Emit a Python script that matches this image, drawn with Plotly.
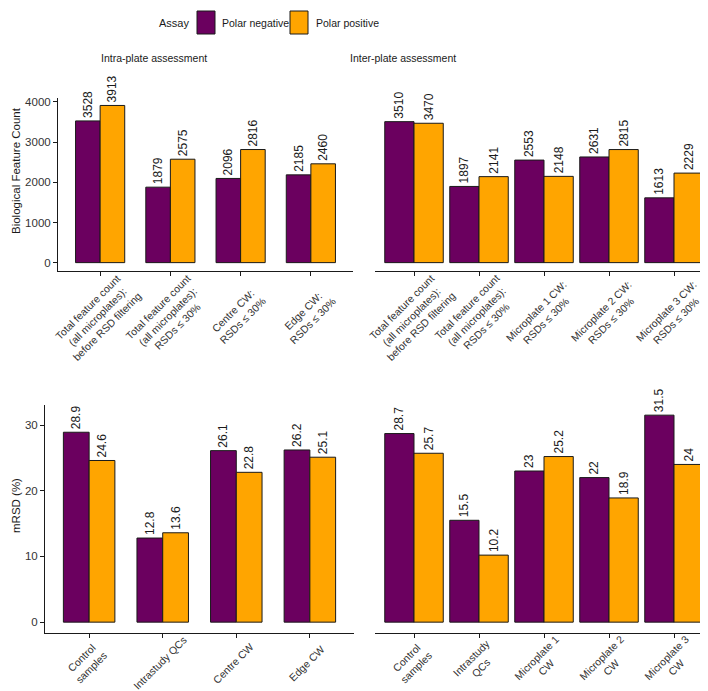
import plotly.graph_objects as go

# ---------------- data ----------------
assays = ["Polar negative", "Polar positive"]
colors = {"Polar negative": "#6B005F", "Polar positive": "#FFA500"}

intra_cats = [
    "Total feature count<br>(all microplates):<br>before RSD filtering",
    "Total feature count<br>(all microplates):<br>RSDs ≤ 30%",
    "Centre CW:<br>RSDs ≤ 30%",
    "Edge CW:<br>RSDs ≤ 30%",
]
intra_neg = [3528, 1879, 2096, 2185]
intra_pos = [3913, 2575, 2816, 2460]

inter_cats = [
    "Total feature count<br>(all microplates):<br>before RSD filtering",
    "Total feature count<br>(all microplates):<br>RSDs ≤ 30%",
    "Microplate 1 CW:<br>RSDs ≤ 30%",
    "Microplate 2 CW:<br>RSDs ≤ 30%",
    "Microplate 3 CW:<br>RSDs ≤ 30%",
]
inter_neg = [3510, 1897, 2553, 2631, 1613]
inter_pos = [3470, 2141, 2148, 2815, 2229]

mrsd_intra_cats = ["Control<br>samples", "Intrastudy QCs", "Centre CW", "Edge CW"]
mrsd_intra_neg = [28.9, 12.8, 26.1, 26.2]
mrsd_intra_pos = [24.6, 13.6, 22.8, 25.1]

mrsd_inter_cats = ["Control<br>samples", "Intrastudy<br>QCs", "Microplate 1<br>CW",
                   "Microplate 2<br>CW", "Microplate 3<br>CW"]
mrsd_inter_neg = [28.7, 15.5, 23.0, 22.0, 31.5]
mrsd_inter_pos = [25.7, 10.2, 25.2, 18.9, 24.0]

y_title_top = "Biological Feature Count"
y_title_bot = "mRSD (%)"
facet_titles = ["Intra-plate assessment", "Inter-plate assessment"]

# ---------------- layout helpers ----------------
W, H = 708, 691
FONT = "Liberation Sans, Arial, sans-serif"
DARK = "#1a1a1a"
TICKCOL = "#333333"


def xp(px):
    return px / W


def yp(py):
    return 1 - py / H


fig = go.Figure()

panels = [
    # x axis, y axis, categories, neg, pos, bar width, x-domain px, y-domain px, tick-label centre y px
    ("x", "y", intra_cats, intra_neg, intra_pos, 0.35, (50, 345), (89.6, 262.5), 308),
    ("x2", "y2", inter_cats, inter_neg, inter_pos, 0.45, (367, 705), (89.6, 262.5), 308),
    ("x3", "y3", mrsd_intra_cats, mrsd_intra_neg, mrsd_intra_pos, 0.35, (37, 346), (396.8, 624.5), 655),
    ("x4", "y4", mrsd_inter_cats, mrsd_inter_neg, mrsd_inter_pos, 0.45, (367, 705), (396.8, 624.5), 655),
]

top_max = max(intra_neg + intra_pos + inter_neg + inter_pos)
bot_max = max(mrsd_intra_neg + mrsd_intra_pos + mrsd_inter_neg + mrsd_inter_pos)

annotations = []

for i, (xa, ya, cats, neg, pos, w, xdom, ydom, lab_y) in enumerate(panels):
    for assay, vals, off in ((assays[0], neg, -w), (assays[1], pos, 0.0)):
        fig.add_trace(go.Bar(
            x=cats, y=vals, name=assay,
            width=w, offset=off,
            marker=dict(color=colors[assay], line=dict(color=DARK, width=1)),
            text=[f"{v:g}" for v in vals],
            textposition="outside", textangle=-90,
            textfont=dict(family=FONT, size=12, color=DARK),
            constraintext="none", cliponaxis=False,
            xaxis=xa, yaxis=ya, showlegend=False,
        ))
    sfx = "" if i == 0 else str(i + 1)
    is_left = i in (0, 2)
    ymax = top_max if i < 2 else bot_max
    yrange = [-0.05 * ymax, 1.05 * ymax]
    fig.layout["xaxis" + sfx] = dict(
        domain=[xp(xdom[0]), xp(xdom[1])],
        anchor="y" + sfx, automargin=False,
        type="category", categoryorder="array", categoryarray=cats,
        range=[-0.6, len(cats) - 0.4],
        showline=True, linecolor=DARK, linewidth=1,
        ticks="outside", ticklen=4, tickcolor=DARK,
        showticklabels=False,
        showgrid=False, zeroline=False, fixedrange=True,
    )
    fig.layout["yaxis" + sfx] = dict(
        domain=[yp(ydom[1]), yp(ydom[0])],
        anchor="x" + sfx, automargin=False,
        range=yrange,
        showline=is_left, linecolor=DARK, linewidth=1,
        ticks="outside" if is_left else "", ticklen=4, tickcolor=DARK,
        showticklabels=is_left,
        tickvals=[0, 1000, 2000, 3000, 4000] if i < 2 else [0, 10, 20, 30],
        tickfont=dict(family=FONT, size=11.5, color=TICKCOL),
        showgrid=False, zeroline=False, fixedrange=True,
    )
    # rotated category labels, centred under each tick (ggplot-style)
    for c in cats:
        annotations.append(dict(
            text=c, x=c, xref=xa, y=yp(lab_y), yref="paper",
            xanchor="center", yanchor="middle", xshift=-3,
            textangle=-45, align="center", showarrow=False,
            font=dict(family=FONT, size=10.5, color=TICKCOL),
        ))


def ann(text, x, y, size=11, xanchor="center", angle=0):
    return dict(text=text, x=xp(x), y=yp(y), xref="paper", yref="paper",
                xanchor=xanchor, yanchor="middle", textangle=angle,
                showarrow=False, font=dict(family=FONT, size=size, color=DARK))


annotations += [
    ann(facet_titles[0], 146, 50, 10.5),
    ann(facet_titles[1], 395, 50, 10.5),
    ann(y_title_top, 8, 163, 11.5, angle=-90),
    ann(y_title_bot, 8, 498, 11.5, angle=-90),
    ann("Assay", 183, 15, 11, xanchor="right"),
    ann(assays[0], 212, 15, 10.5, xanchor="left"),
    ann(assays[1], 306, 15, 10.5, xanchor="left"),
]
shapes = [
    dict(type="rect", xref="paper", yref="paper", x0=xp(189), x1=xp(207), y0=yp(26), y1=yp(3),
         fillcolor=colors[assays[0]], line=dict(color=DARK, width=1)),
    dict(type="rect", xref="paper", yref="paper", x0=xp(282), x1=xp(300), y0=yp(26), y1=yp(3),
         fillcolor=colors[assays[1]], line=dict(color=DARK, width=1)),
]

fig.update_layout(
    template="none",
    width=W, height=H,
    margin=dict(l=0, r=0, t=0, b=0, autoexpand=False),
    paper_bgcolor="white", plot_bgcolor="white",
    barmode="overlay",
    annotations=annotations, shapes=shapes,
    font=dict(family=FONT, color=DARK),
    showlegend=False,
)

fig.write_html("out.html")
